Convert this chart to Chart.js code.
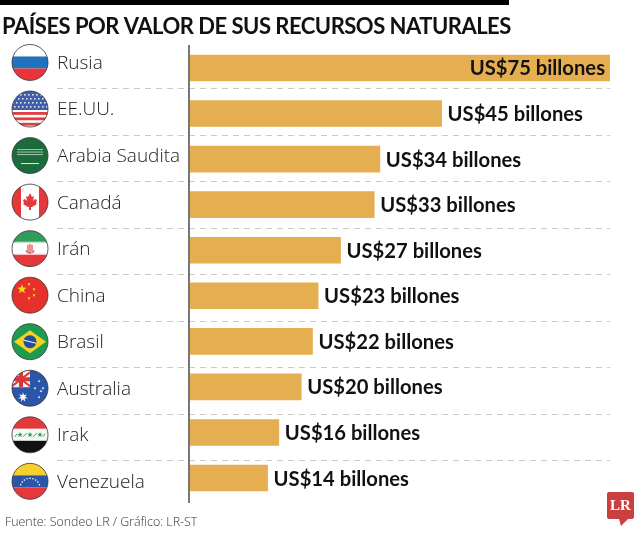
<!DOCTYPE html>
<html><head><meta charset="utf-8">
<style>html,body{margin:0;padding:0;background:#fff}canvas{display:block}</style>
<script src="https://cdn.jsdelivr.net/npm/chart.js@4"></script>
</head><body><canvas id="c" width="640" height="533"></canvas>
<script>
const categories=["Rusia","EE.UU.","Arabia Saudita","Canadá","Irán","China","Brasil","Australia","Irak","Venezuela"];
const values=[75,45,34,33,27,23,22,20,16,14];
const valueLabels=["US$75 billones","US$45 billones","US$34 billones","US$33 billones","US$27 billones","US$23 billones","US$22 billones","US$20 billones","US$16 billones","US$14 billones"];
const titleText="PAÍSES POR VALOR DE SUS RECURSOS NATURALES";
const sourceText="Fuente: Sondeo LR / Gráfico: LR-ST";

function star(c,x,y,r,col,n){n=n||5;c.fillStyle=col;c.beginPath();
 for(let i=0;i<n*2;i++){const a=-Math.PI/2+i*Math.PI/n,q=i%2?r*0.42:r;c.lineTo(x+q*Math.cos(a),y+q*Math.sin(a));}
 c.closePath();c.fill();}
function hb(c,y,h,col){c.fillStyle=col;c.fillRect(-20,y,40,h);}
const flags={
 "Rusia":c=>{hb(c,-18,12,"#fff");hb(c,-6,12,"#1f72bd");hb(c,6,12,"#e8343a");},
 "EE.UU.":c=>{hb(c,-18,36,"#fff");for(let i=0;i<3;i++)hb(c,3+i*5.4,2.8,"#e23b40");
   c.fillStyle="#3f5fa8";c.fillRect(-20,-18,40,19);
   c.fillStyle="#dfe6f5";for(let r=0;r<4;r++)for(let k=0;k<9;k++){c.fillRect(-18+k*4+(r%2)*2,-15+r*4,1.6,1.6);}},
 "Arabia Saudita":c=>{hb(c,-18,36,"#1c6b3c");c.strokeStyle="#dfeee4";c.lineWidth=.7;
   for(let r=0;r<3;r++){c.beginPath();for(let x=-13;x<=13;x+=2){c.lineTo(x,-7+r*2.5+(x%4?1:-1));}c.stroke();}
   c.lineWidth=1;c.beginPath();c.moveTo(-9,8);c.lineTo(9,8);c.stroke();},
 "Canadá":c=>{hb(c,-18,36,"#fff");c.fillStyle="#e5383b";c.fillRect(-20,-18,11,36);c.fillRect(9,-18,11,36);
   c.beginPath();
   [[0,-9],[2,-5],[4,-6],[3,-1],[5,-3],[7,-2],[6,1],[7,2],[2,5],[1,5],[1,8],[-1,8],[-1,5],[-2,5],[-7,2],[-6,1],[-7,-2],[-5,-3],[-3,-1],[-4,-6],[-2,-5]].forEach(p=>c.lineTo(p[0],p[1]));
   c.closePath();c.fill();},
 "Irán":c=>{hb(c,-18,12,"#2f9c58");hb(c,-6,12,"#fff");hb(c,6,12,"#e5383b");
   c.strokeStyle="#d9363a";c.lineWidth=1.1;c.beginPath();c.arc(0,0,4.5,.4,Math.PI-.4);c.stroke();c.beginPath();c.moveTo(0,-5);c.lineTo(0,5);c.moveTo(-2,-4);c.lineTo(-2,3);c.moveTo(2,-4);c.lineTo(2,3);c.stroke();
   c.fillStyle="#f3c6c6";c.fillRect(-15,5,30,1.2);c.fillStyle="#c5e4d0";c.fillRect(-15,-7,30,1.2);},
 "China":c=>{hb(c,-18,36,"#e5302c");star(c,-8,-6,5,"#f9d423");[[-1,-11],[4,-6],[4,0],[-1,3]].forEach(p=>star(c,p[0],p[1],1.8,"#f9d423"));},
 "Brasil":c=>{hb(c,-18,36,"#1f9b50");c.fillStyle="#f4d21f";c.beginPath();c.moveTo(-16,0);c.lineTo(0,-11.5);c.lineTo(16,0);c.lineTo(0,11.5);c.closePath();c.fill();
   c.fillStyle="#1f4f9c";c.beginPath();c.arc(0,0,6.5,0,7);c.fill();c.strokeStyle="#fff";c.lineWidth=1;c.beginPath();c.moveTo(-6,-1.5);c.lineTo(6,1.5);c.stroke();},
 "Australia":c=>{hb(c,-18,36,"#2a55a8");c.fillStyle="#f3f0f3";c.fillRect(-20,-18,20,17);
   c.strokeStyle="#d9363a";c.lineWidth=2;c.beginPath();c.moveTo(-18,-16);c.lineTo(0,-2);c.moveTo(0,-16);c.lineTo(-18,-2);c.stroke();
   c.fillStyle="#d9363a";c.fillRect(-20,-11,20,4);c.fillRect(-11,-18,4,17);
   star(c,-7,9,5,"#fff",7);[[9,-7],[13,0],[9,9],[5,0],[11,3]].forEach(p=>star(c,p[0],p[1],1.6,"#fff",6));},
 "Irak":c=>{hb(c,-18,12,"#e5383b");hb(c,-6,12,"#f7f7f7");hb(c,6,12,"#111");
   [-10,0,10].forEach(x=>star(c,x,0,2.8,"#2f9c58"));c.strokeStyle="#2f7a48";c.lineWidth=.8;c.beginPath();c.moveTo(-15,2);c.lineTo(-13,-1);c.moveTo(-7,2);c.lineTo(-3,-2);c.moveTo(3,2);c.lineTo(7,-2);c.moveTo(13,2);c.lineTo(15,-1);c.stroke();},
 "Venezuela":c=>{hb(c,-18,12,"#f7cf2e");hb(c,-6,12,"#2a55a8");hb(c,6,12,"#e5383b");
   c.fillStyle="#fff";for(let k=-4;k<=4;k++){const a=k*.3;c.beginPath();c.arc(10*Math.sin(a),7-10*Math.cos(a),.8,0,7);c.fill();}}
};

const overlay={id:"overlay",
 beforeDraw(chart){chart.ctx.letterSpacing="-0.5px";},
 beforeDatasetsDraw(chart){const c=chart.ctx,y=chart.scales.y,x=chart.scales.x;
  c.letterSpacing="0px";
  const drift=i=>y.getPixelForValue(i)-5.5+i*0.98;
  c.save();c.strokeStyle="#c9c9c9";c.lineWidth=1;c.setLineDash([6,5]);
  for(let i=0;i<categories.length-1;i++){const yy=Math.round(drift(i)+25.7)+.5;c.beginPath();c.moveTo(57,yy);c.lineTo(x.getPixelForValue(75),yy);c.stroke();}
  c.setLineDash([]);c.restore();},
 afterDatasetsDraw(chart){const c=chart.ctx,y=chart.scales.y,x=chart.scales.x;
  const drift=i=>y.getPixelForValue(i)-5.5+i*0.98;
  c.save();
  c.fillStyle="#000";c.fillRect(0,0,509,5);
  c.strokeStyle="#777";c.lineWidth=2;c.beginPath();c.moveTo(x.getPixelForValue(0),45);c.lineTo(x.getPixelForValue(0),503);c.stroke();
  categories.forEach((n,i)=>{const cy=drift(i);
   c.save();c.translate(30,cy);c.beginPath();c.arc(0,0,18,0,Math.PI*2);c.clip();flags[n](c);c.restore();
   c.beginPath();c.arc(30,cy,18,0,Math.PI*2);c.strokeStyle="#333";c.lineWidth=.8;c.stroke();
   c.fillStyle="#222";c.font='300 19px "Open Sans"';c.textAlign="left";c.textBaseline="middle";c.fillText(n,57,cy+1);
  });
  const meta=chart.getDatasetMeta(0);
  c.font='bold 20.2px Lato';c.fillStyle="#111";c.textBaseline="middle";
  meta.data.forEach((b,i)=>{const inside=values[i]===Math.max(...values);
   c.textAlign=inside?"right":"left";c.fillText(valueLabels[i],b.x+(inside?-5:6),b.y+1);});
  c.fillStyle="#333";c.font='300 12.4px "Open Sans"';c.textAlign="left";c.fillText(sourceText,5,522);
  c.fillStyle="#c9403f";c.beginPath();c.roundRect(607,492,27,27,2);c.fill();
  c.beginPath();c.moveTo(619,519);c.lineTo(621,526);c.lineTo(628,519);c.closePath();c.fill();
  c.fillStyle="#fff";c.font='bold 15px "Liberation Serif"';c.textAlign="center";c.fillText("LR",620.5,506);
  c.restore();}
};
new Chart(document.getElementById("c"),{type:"bar",
 data:{labels:categories,datasets:[{data:values,backgroundColor:"#e5ae50",barThickness:26,borderWidth:0}]},
 options:{indexAxis:"y",responsive:false,animation:false,
  layout:{padding:{left:2,right:30,top:0,bottom:32.2}},
  plugins:{legend:{display:false},tooltip:{enabled:false},
   title:{display:true,text:titleText,align:"start",color:"#111",font:{family:"Lato",weight:"bold",size:22,lineHeight:1.2},padding:{top:14.2,bottom:4.6}}},
  scales:{
   x:{min:0,max:75,display:false},
   y:{grid:{display:false},border:{display:false},ticks:{display:false},afterFit:s=>{s.width=187;}}
  }},
 plugins:[overlay]});
</script></body></html>
